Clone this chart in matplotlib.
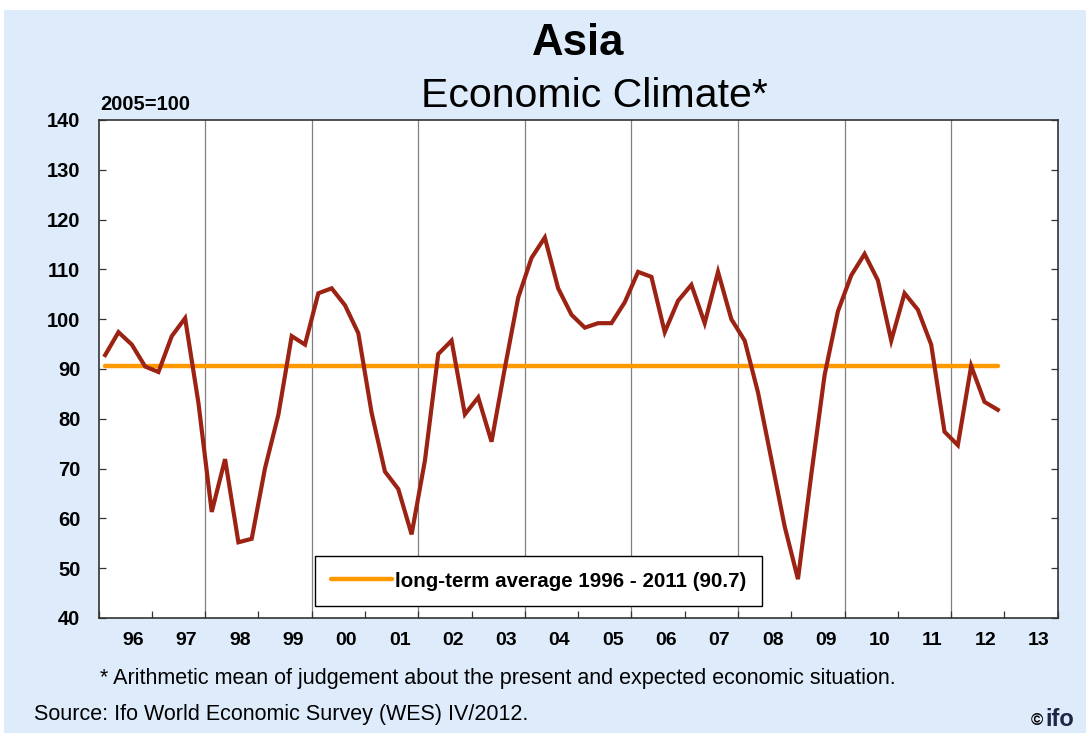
import numpy as np
import matplotlib.pyplot as plt
from matplotlib.patches import Rectangle

# quarterly index values, 1996Q1 .. 2012Q4
climate = [92.8, 97.4, 94.9, 90.5, 89.4, 96.6, 100.2, 83.2,
           61.3, 71.9, 55.2, 55.9, 70.1, 80.8, 96.6, 94.9,
           105.2, 106.2, 102.8, 97.2, 81.2, 69.4, 65.9, 56.8,
           71.6, 93.0, 95.7, 80.9, 84.3, 75.4, 90.2, 104.3,
           112.3, 116.4, 106.2, 100.9, 98.3, 99.2, 99.2, 103.4,
           109.5, 108.5, 97.4, 103.7, 106.9, 99.2, 109.5, 100.0,
           95.7, 85.3, 71.9, 58.4, 47.8, 68.8, 88.8, 101.6,
           108.8, 113.1, 107.8, 95.7, 105.2, 101.9, 94.9, 77.4,
           74.7, 90.6, 83.4, 81.8]
long_term_avg = 90.7
years = list(range(1996, 2014))
year_labels = ['96', '97', '98', '99', '00', '01', '02', '03', '04',
               '05', '06', '07', '08', '09', '10', '11', '12', '13']

x = 1996 + (np.arange(len(climate)) + 0.5) / 4

bg = '#DDEBFB'
plt.rcParams['font.family'] = ['Liberation Sans', 'DejaVu Sans']

fig = plt.figure(figsize=(10.86, 7.33), dpi=100)
fig.patches.append(Rectangle((0.004, 0), 0.996, 0.986, transform=fig.transFigure,
                             facecolor=bg, edgecolor='none', zorder=-10))

ax = fig.add_axes([0.0907, 0.1569, 0.8833, 0.6794])
ax.set_facecolor('white')

for yr in range(1998, 2013, 2):
    ax.axvline(yr, color='#808080', lw=0.9, zorder=1)

ax.plot([x[0], x[-1]], [long_term_avg, long_term_avg], color='#FF9900', lw=3.2,
        solid_capstyle='round', zorder=2,
        label='long-term average 1996 - 2011 (90.7)')
ax.plot(x, climate, color='#9C2313', lw=3.0, solid_joinstyle='miter', zorder=3)

ax.set_xlim(1996, 2014)
ax.set_ylim(40, 140)
ax.set_yticks(range(40, 141, 10))
ax.set_yticklabels([str(v) for v in range(40, 141, 10)], fontsize=14.5,
                   fontweight='bold')
ax.set_xticks(years + [2014])
ax.set_xticklabels([])
ax.set_xticks([y + 0.65 for y in years], minor=True)
ax.set_xticklabels(year_labels, minor=True, fontsize=14, fontweight='bold')
ax.tick_params(axis='x', which='major', direction='in', length=5, width=0.9,
               color='#333333')
ax.tick_params(axis='x', which='minor', length=0, pad=10)
ax.tick_params(axis='y', direction='in', length=5, width=0.9, right=True,
               color='#333333', pad=13)
for s in ax.spines.values():
    s.set_color('#333333')
    s.set_linewidth(1.2)

leg = ax.legend(loc='lower left', bbox_to_anchor=(0.226, 0.024), fancybox=False,
                edgecolor='black', framealpha=1, handlelength=3.0,
                handletextpad=0.15, borderaxespad=0,
                prop={'weight': 'bold', 'size': 14.8}, borderpad=0.75)
leg.get_frame().set_linewidth(1.0)

fig.text(0.532, 0.940, 'Asia', fontsize=31.5, fontweight='bold', ha='center',
         va='center')
fig.text(0.547, 0.869, 'Economic Climate*', fontsize=29.5, ha='center',
         va='center')
fig.text(0.092, 0.857, '2005=100', fontsize=14.5, fontweight='bold', ha='left',
         va='center')
fig.text(0.092, 0.074, '* Arithmetic mean of judgement about the present and expected economic situation.',
         fontsize=15.5, ha='left', va='center')
fig.text(0.031, 0.025, 'Source: Ifo World Economic Survey (WES) IV/2012.',
         fontsize=15.5, ha='left', va='center')
fig.text(0.949, 0.017, '\u00a9', fontsize=12, fontweight='bold',
         ha='left', va='center')
fig.text(0.963, 0.019, 'ifo', fontsize=17, fontweight='bold', color='#1B2744',
         ha='left', va='center')

fig.savefig('out.png', dpi=100)
